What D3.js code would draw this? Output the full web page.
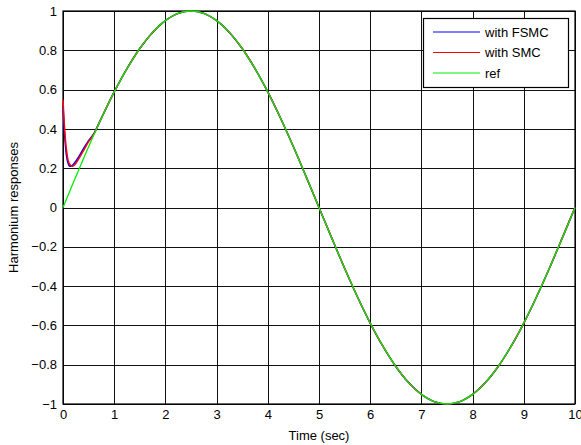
<!DOCTYPE html>
<html>
<head>
<meta charset="utf-8">
<script src="https://cdn.jsdelivr.net/npm/d3@7"></script>
<style>
  body { margin: 0; background: #fff; }
  text { font-family: "Liberation Sans", Arial, sans-serif; }
</style>
</head>
<body>
<script>
// values
const refTime = [0, 0.25, 0.5, 0.75, 1, 1.25, 1.5, 1.75, 2, 2.25, 2.5, 2.75, 3, 3.25, 3.5, 3.75, 4, 4.25, 4.5, 4.75, 5,
  5.25, 5.5, 5.75, 6, 6.25, 6.5, 6.75, 7, 7.25, 7.5, 7.75, 8, 8.25, 8.5, 8.75, 9, 9.25, 9.5, 9.75, 10];
const refVals = [0, 0.156, 0.309, 0.454, 0.588, 0.707, 0.809, 0.891, 0.951, 0.988, 1, 0.988, 0.951, 0.891, 0.809, 0.707, 0.588, 0.454, 0.309, 0.156, 0,
  -0.156, -0.309, -0.454, -0.588, -0.707, -0.809, -0.891, -0.951, -0.988, -1, -0.988, -0.951, -0.891, -0.809, -0.707, -0.588, -0.454, -0.309, -0.156, 0];

const ctrlTime = [0, 0.02, 0.04, 0.06, 0.08, 0.1, 0.13, 0.17, 0.22, 0.3, 0.4, 0.5, 0.6, 0.75, 1, 1.25, 1.5, 1.75, 2, 2.25, 2.5, 2.75, 3, 3.25, 3.5, 3.75, 4, 4.25, 4.5, 4.75, 5,
  5.25, 5.5, 5.75, 6, 6.25, 6.5, 6.75, 7, 7.25, 7.5, 7.75, 8, 8.25, 8.5, 8.75, 9, 9.25, 9.5, 9.75, 10];
const fsmcVals = [0.52, 0.42, 0.34, 0.28, 0.245, 0.225, 0.21, 0.212, 0.225, 0.255, 0.3, 0.34, 0.375, 0.455, 0.588, 0.707, 0.809, 0.891, 0.951, 0.988, 1, 0.988, 0.951, 0.891, 0.809, 0.707, 0.588, 0.454, 0.309, 0.156, 0,
  -0.156, -0.309, -0.454, -0.588, -0.707, -0.809, -0.891, -0.951, -0.988, -1, -0.988, -0.951, -0.891, -0.809, -0.707, -0.588, -0.454, -0.309, -0.156, 0];
const smcVals = [0.55, 0.45, 0.37, 0.31, 0.27, 0.24, 0.22, 0.21, 0.215, 0.245, 0.29, 0.335, 0.372, 0.455, 0.588, 0.707, 0.809, 0.891, 0.951, 0.988, 1, 0.988, 0.951, 0.891, 0.809, 0.707, 0.588, 0.454, 0.309, 0.156, 0,
  -0.156, -0.309, -0.454, -0.588, -0.707, -0.809, -0.891, -0.951, -0.988, -1, -0.988, -0.951, -0.891, -0.809, -0.707, -0.588, -0.454, -0.309, -0.156, 0];

const xTicks = [0, 1, 2, 3, 4, 5, 6, 7, 8, 9, 10];
const yTicks = [-1, -0.8, -0.6, -0.4, -0.2, 0, 0.2, 0.4, 0.6, 0.8, 1];
const legendNames = ["with FSMC", "with SMC", "ref"];
const colors = ["#0000ff", "#ff0000", "#00ee00"];

const width = 581, height = 445;
const margin = {left: 63, right: 6, top: 11, bottom: 41};

const svg = d3.select('body').append('svg')
  .attr('width', width)
  .attr('height', height);

const x = d3.scaleLinear().domain([0, 10]).range([margin.left, width - margin.right]);
const y = d3.scaleLinear().domain([-1, 1]).range([height - margin.bottom, margin.top]);

// grid
svg.append('g').selectAll('line').data(xTicks).join('line')
  .attr('x1', d => Math.round(x(d)) + 0.5).attr('x2', d => Math.round(x(d)) + 0.5)
  .attr('y1', y(1)).attr('y2', y(-1))
  .attr('stroke', '#111').attr('stroke-width', 1);
svg.append('g').selectAll('line').data(yTicks).join('line')
  .attr('y1', d => Math.round(y(d)) + 0.5).attr('y2', d => Math.round(y(d)) + 0.5)
  .attr('x1', x(0)).attr('x2', x(10))
  .attr('stroke', '#111').attr('stroke-width', 1);

// axes
const xAxis = svg.append('g')
  .attr('transform', `translate(0,${y(-1)})`)
  .call(d3.axisBottom(x).tickValues(xTicks).tickSize(0).tickPadding(6).tickFormat(d3.format('d')));
const yAxis = svg.append('g')
  .attr('transform', `translate(${x(0)},0)`)
  .call(d3.axisLeft(y).tickValues(yTicks).tickSize(0).tickPadding(6).tickFormat(d => d3.format('')(d)));
[xAxis, yAxis].forEach(a => {
  a.select('.domain').remove();
  a.selectAll('text').attr('font-size', 13).attr('fill', '#000')
    .style('font-family', '"Liberation Sans", Arial, sans-serif');
});

// box
svg.append('rect')
  .attr('x', x(0)).attr('y', y(1))
  .attr('width', x(10) - x(0)).attr('height', y(-1) - y(1))
  .attr('fill', 'none').attr('stroke', '#000').attr('stroke-width', 1.2);

const line = d3.line().curve(d3.curveCatmullRom);

const series = [
  {t: ctrlTime, v: fsmcVals},
  {t: ctrlTime, v: smcVals},
  {t: refTime, v: refVals}
];
series.forEach((s, i) => {
  svg.append('path')
    .attr('d', line(s.t.map((t, k) => [x(t), y(s.v[k])])))
    .attr('fill', 'none')
    .attr('stroke', colors[i])
    .attr('stroke-width', i == 2 ? 1.3 : 1.5);
});

// labels
svg.append('text')
  .attr('x', x(5)).attr('y', 440)
  .attr('text-anchor', 'middle').attr('font-size', 13)
  .text('Time (sec)');
svg.append('text')
  .attr('transform', `translate(18,${y(0)}) rotate(-90)`)
  .attr('text-anchor', 'middle').attr('font-size', 13)
  .text('Harmonium responses');

// legend
const lg = svg.append('g');
lg.append('rect')
  .attr('x', 423.5).attr('y', 18.5).attr('width', 145).attr('height', 69)
  .attr('fill', '#fff').attr('stroke', '#000').attr('stroke-width', 1.2);
legendNames.forEach((n, i) => {
  const yy = 32 + i * 20.5;
  lg.append('line')
    .attr('x1', 433).attr('x2', 480).attr('y1', yy).attr('y2', yy)
    .attr('stroke', colors[i]).attr('stroke-width', 1);
  lg.append('text')
    .attr('x', 485).attr('y', yy + 4.5).attr('font-size', 13)
    .text(n);
});
</script>
</body>
</html>
